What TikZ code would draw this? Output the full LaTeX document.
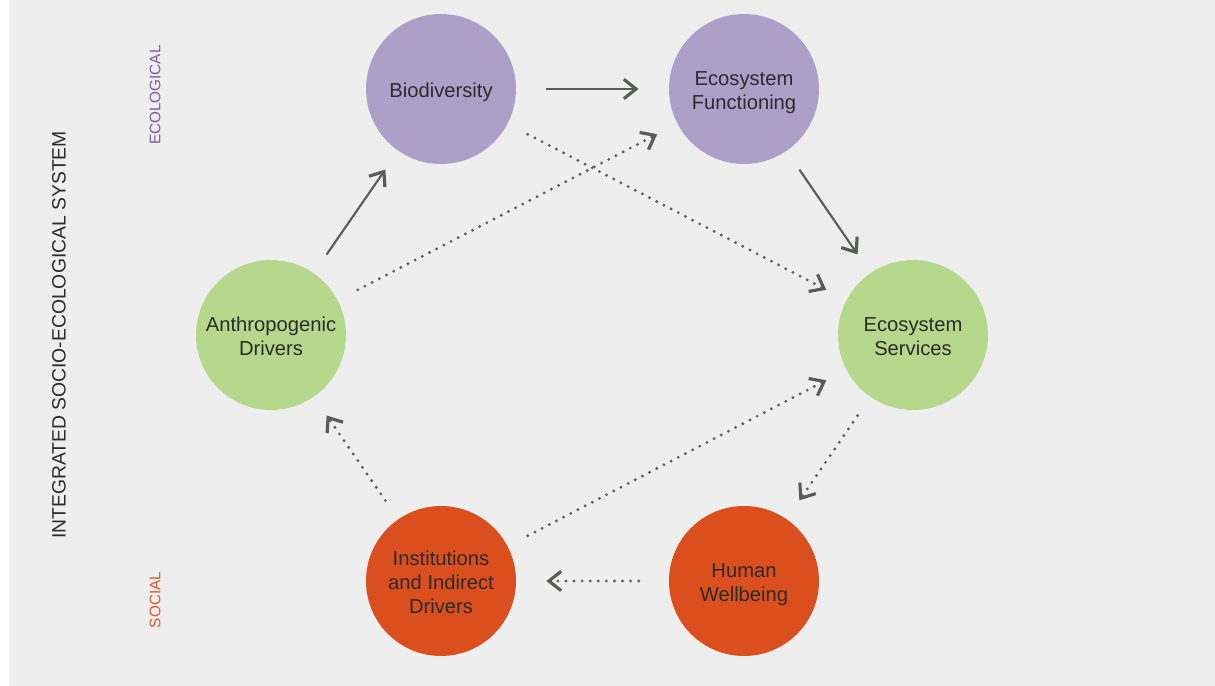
\documentclass[tikz,border=0pt]{standalone}
\usepackage{fontspec}
\setmainfont{Liberation Sans}
\usepackage{tikz}
\usetikzlibrary{shapes.geometric, arrows.meta}
\definecolor{bgray}{HTML}{EEEEEE}
\definecolor{ecopurple}{HTML}{AE9FC8}
\definecolor{ecogreen}{HTML}{B5D88C}
\definecolor{socorange}{HTML}{DB4F1F}
\definecolor{arrowgray}{HTML}{575E55}
\definecolor{txtdark}{HTML}{2B2B2B}
\definecolor{labpurple}{HTML}{7A5BA8}
\definecolor{laborange}{HTML}{E0572A}
\newcommand{\lowtext}[1]{\raisebox{-2.3pt}[\height][\depth]{\begin{tabular}{@{}c@{}}#1\end{tabular}}}
\tikzstyle{circ} = [circle, minimum size=3cm, inner sep=0pt, align=center, text=txtdark, font=\fontsize{11.5}{13.7}\selectfont]
\tikzstyle{ecol} = [circ, fill=ecopurple]
\tikzstyle{serv} = [circ, fill=ecogreen]
\tikzstyle{soc} = [circ, fill=socorange]
\tikzstyle{arrow} = [line width=1.2pt, draw=arrowgray, -{Straight Barb[length=7pt, width=11pt, line width=1.8pt]}, shorten >=0.45cm, shorten <=0.45cm]
\tikzstyle{dotarrow} = [arrow, line width=1.8pt, line cap=round, dash pattern=on 0pt off 4.6pt]
\tikzstyle{side} = [rotate=90, font=\fontsize{8.7}{10}\selectfont]

\begin{document}
\begin{tikzpicture}[x=0.02cm, y=-0.02cm]
\useasboundingbox (0,0) rectangle (1215,686);
\fill [bgray] (9,0) rectangle (1215,686);
\node (bio) [ecol] at (441,89) {\lowtext{Biodiversity}};
\node (func) [ecol] at (744,89) {\lowtext{Ecosystem\\Functioning}};
\node (anthro) [serv] at (271,335) {\lowtext{Anthropogenic\\Drivers}};
\node (serv) [serv] at (913,335) {\lowtext{Ecosystem\\Services}};
\node (inst) [soc] at (441,581) {\lowtext{Institutions\\and Indirect\\Drivers}};
\node (human) [soc] at (744,581) {\lowtext{Human\\Wellbeing}};
\node (system) [rotate=90, font=\fontsize{11}{13}\selectfont, text=txtdark] at (59,335) {INTEGRATED SOCIO-ECOLOGICAL SYSTEM};
\node (ecolab) [side, text=labpurple] at (155,95) {ECOLOGICAL};
\node (soclab) [side, text=laborange] at (155,600) {SOCIAL};
\draw [arrow, shorten >=0.6cm, shorten <=0.6cm] (bio) -- (func);
\draw [arrow] (anthro) -- (bio);
\draw [arrow] (func) -- (serv);
\draw [dotarrow] (bio) -- (serv);
\draw [dotarrow] (anthro) -- (func);
\draw [dotarrow] (serv) -- (human);
\draw [dotarrow, shorten >=0.6cm, shorten <=0.6cm] (human) -- (inst);
\draw [dotarrow] (inst) -- (anthro);
\draw [dotarrow] (inst) -- (serv);
\end{tikzpicture}
\end{document}
